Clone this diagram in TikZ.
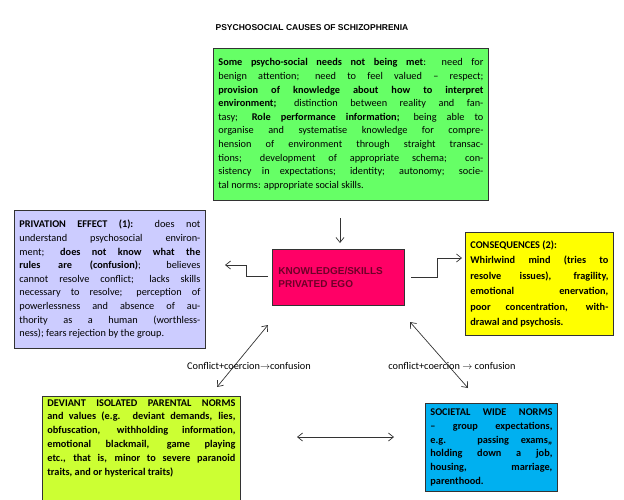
\documentclass[tikz,border=0pt]{standalone}
\usepackage{fontspec}
\setmainfont{Carlito}
\newfontfamily\arialf{Liberation Sans}
\usetikzlibrary{arrows.meta}
\definecolor{cgreen}{RGB}{102,255,102}
\definecolor{cpurple}{RGB}{204,204,255}
\definecolor{cmag}{RGB}{255,0,102}
\definecolor{cmagtext}{RGB}{110,0,40}
\definecolor{cyel}{RGB}{255,255,0}
\definecolor{clime}{RGB}{204,255,51}
\definecolor{cblue}{RGB}{0,176,240}
\begin{document}
\begin{tikzpicture}[x=1pt,y=-1pt,
  box/.style={draw=black!80,line width=0.8pt,anchor=north west,inner xsep=5pt,inner ysep=3pt,
    font=\fontsize{10.3}{13.6}\selectfont,align=justify},
  arr/.style={draw=black!80,line width=0.7pt,-{Straight Barb[length=5pt,width=8pt]}},
  darr/.style={draw=black!80,line width=0.7pt,{Straight Barb[length=5pt,width=8pt]}-{Straight Barb[length=5pt,width=8pt]}},
  lab/.style={font=\fontsize{10.3}{12}\selectfont}]
\useasboundingbox (0,0) rectangle (624,499);
\node[font=\arialf\bfseries\fontsize{8.5}{10}\selectfont] (title) at (312,28) {PSYCHOSOCIAL CAUSES OF SCHIZOPHRENIA};
\node[box,fill=cgreen,text width=265pt,minimum height=152pt] (green) at (213,48) {\textbf{Some psycho-social needs not being met}: need for\linebreak benign attention; need to feel valued -- respect;\linebreak \textbf{provision of knowledge about how to interpret}\linebreak \textbf{environment;} distinction between reality and fan-\linebreak tasy; \textbf{Role performance information;} being able to\linebreak organise and systematise knowledge for compre-\linebreak hension of environment through straight transac-\linebreak tions; development of appropriate schema; con-\linebreak sistency in expectations; identity; autonomy; socie-\linebreak tal norms: appropriate social skills.};
\node[box,fill=cpurple,text width=181pt,minimum height=138pt] (priv) at (14,210) {\textbf{PRIVATION EFFECT (1):} does not\linebreak understand psychosocial environ-\linebreak ment; \textbf{does not know what the}\linebreak \textbf{rules are (confusion)}; believes\linebreak cannot resolve conflict; lacks skills\linebreak necessary to resolve; perception of\linebreak powerlessness and absence of au-\linebreak thority as a human (worthless-\linebreak ness); fears rejection by the group.};
\node[draw=black!80,line width=0.8pt,fill=cmag,anchor=north west,minimum width=132pt,minimum height=56pt,text width=120pt,align=left,text=cmagtext,font=\arialf\bfseries\fontsize{10}{12.5}\selectfont] (ego) at (272,249) {KNOWLEDGE/SKILLS\\ PRIVATED EGO};
\node[box,fill=cyel,text width=138pt,minimum height=103pt,font=\bfseries\fontsize{10.3}{15.5}\selectfont] (cons) at (465,232) {CONSEQUENCES (2):\\ Whirlwind mind (tries to\linebreak resolve issues), fragility,\linebreak emotional enervation,\linebreak poor concentration, with-\linebreak drawal and psychosis.};
\node[box,fill=clime,text width=188pt,minimum height=100pt,font=\bfseries\fontsize{10.3}{13.8}\selectfont] (par) at (42,396) {DEVIANT ISOLATED PARENTAL NORMS\linebreak and values (e.g. deviant demands, lies,\linebreak obfuscation, withholding information,\linebreak emotional blackmail, game playing\linebreak etc., that is, minor to severe paranoid\linebreak traits, and or hysterical traits)\\[12pt]};
\node[box,fill=cblue,text width=122pt,minimum height=88pt,font=\bfseries\fontsize{10.3}{13.8}\selectfont] (soc) at (425,403) {SOCIETAL WIDE NORMS\linebreak -- group expectations,\linebreak e.g. passing exams,,\linebreak holding down a job,\linebreak housing, marriage,\linebreak parenthood.};
\coordinate (gA) at (340,218);
\coordinate (gB) at (340,243);
\draw[arr] (gA) -- (gB);
\coordinate (l1) at (268,276); \coordinate (l2) at (225,265);
\draw[arr] (l1) -- (246,276) -- (246,265) -- (l2);
\coordinate (r1) at (411,277); \coordinate (r2) at (462,258);
\draw[arr] (r1) -- (437,277) -- (437,258) -- (r2);
\coordinate (d1) at (268,325); \coordinate (d2) at (217,387);
\draw[darr] (d1) -- (d2);
\coordinate (e1) at (410,322); \coordinate (e2) at (468,388);
\draw[darr] (e1) -- (e2);
\coordinate (h1) at (297,437); \coordinate (h2) at (394,437);
\draw[darr] (h1) -- (h2);
\node[lab] (c1) at (249,366) {Conflict+coercion$\rightarrow$confusion};
\node[lab] (c2) at (452,366) {conflict+coercion $\rightarrow$ confusion};
\end{tikzpicture}
\end{document}
